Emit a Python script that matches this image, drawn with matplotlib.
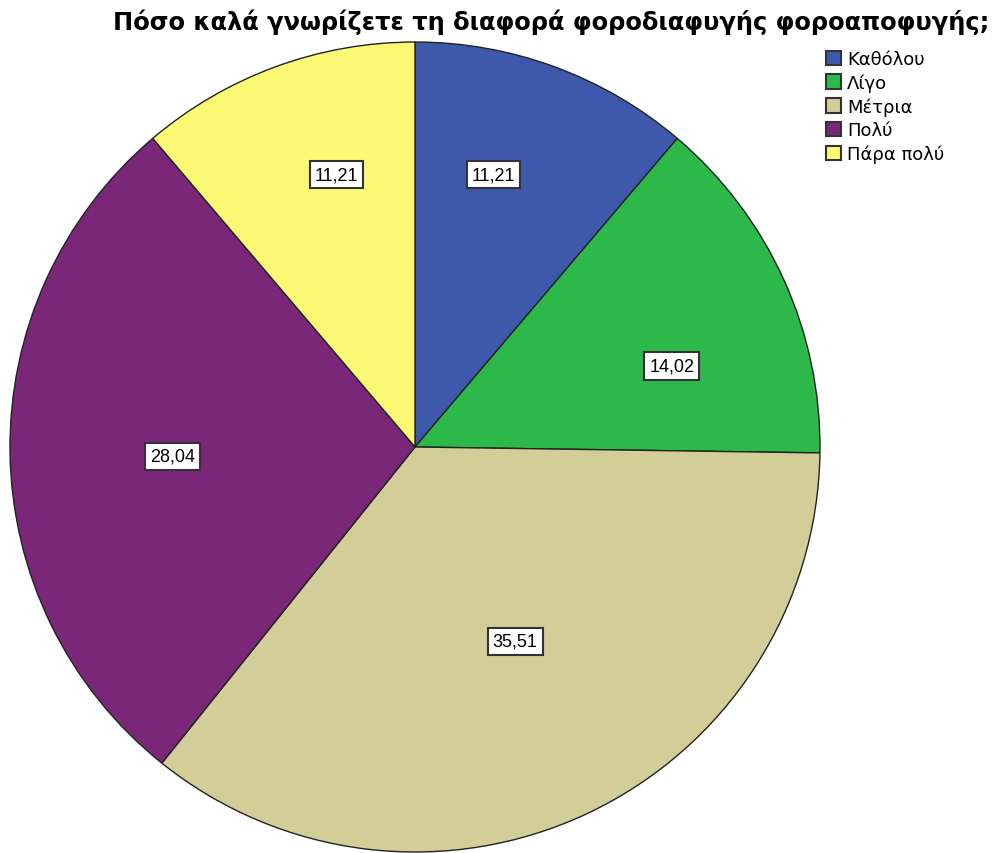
import numpy as np
import matplotlib.pyplot as plt
from matplotlib.patches import Patch

plt.rcParams['font.family'] = ['DejaVu Sans']

categories = ['Καθόλου', 'Λίγο', 'Μέτρια', 'Πολύ', 'Πάρα πολύ']
percents = [11.21, 14.02, 35.51, 28.04, 11.21]
colors = ['#3E58AC', '#2DB84A', '#D3CE97', '#7B2779', '#FBF873']
# where each value box sits: fraction of the radius and turn (deg) off the wedge middle
label_r = [0.70, 0.665, 0.54, 0.60, 0.70]
label_turn = [4.1, -6.9, 2.0, 1.4, -4.1]

fig = plt.figure(figsize=(9.94, 8.54), dpi=100)
W, H = 994, 854
cx, cy, R = 415, 448, 405
ax = fig.add_axes([(cx - R) / W, (H - cy - R) / H, 2 * R / W, 2 * R / H])

wedges, _ = ax.pie(percents, colors=colors, startangle=90, counterclock=False,
                   radius=1.0,
                   wedgeprops=dict(edgecolor='#222222', linewidth=1.0))

for w, val, r, turn in zip(wedges, percents, label_r, label_turn):
    mid = np.deg2rad((w.theta1 + w.theta2) / 2 + turn)
    ax.text(r * np.cos(mid), r * np.sin(mid), f'{val:.2f}'.replace('.', ','),
            ha='center', va='center', fontsize=13, color='black',
            family=['Liberation Sans', 'DejaVu Sans'],
            bbox=dict(boxstyle='square,pad=0.28', facecolor='white',
                      edgecolor='#333333', linewidth=1.5))

ax.set_xlim(-1, 1)
ax.set_ylim(-1, 1)
ax.set_aspect('equal')
ax.axis('off')

fig.text(551 / W, 1 - 22 / H, 'Πόσο καλά γνωρίζετε τη διαφορά φοροδιαφυγής φοροαποφυγής;',
         ha='center', va='center', fontsize=17.4, fontweight='bold')

handles = [Patch(facecolor=c, edgecolor='#333333', linewidth=1.5) for c in colors]
fig.legend(handles, categories, loc='upper left', bbox_to_anchor=(826 / W, 1 - 51 / H),
           frameon=False, fontsize=13, handlelength=0.85, handleheight=0.85,
           handletextpad=0.3, labelspacing=0.3, borderpad=0, borderaxespad=0)

fig.savefig('out.png', dpi=100, facecolor='white')
